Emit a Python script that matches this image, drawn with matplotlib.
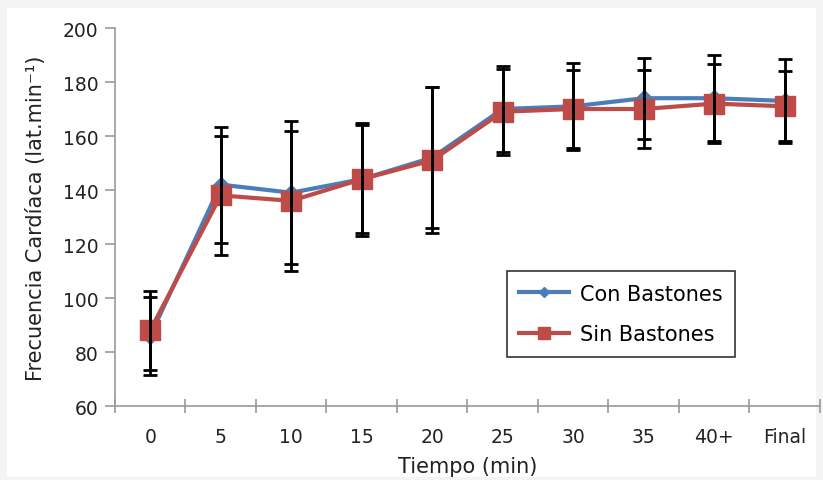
import matplotlib.pyplot as plt
from matplotlib.patches import Rectangle

plt.rcParams['font.family'] = ['DejaVu Sans']

# datos
tiempos = ['0', '5', '10', '15', '20', '25', '30', '35', '40+', 'Final']
con_bastones = [86, 142, 139, 144, 152, 170, 171, 174, 174, 173]
con_err = [14.5, 21.5, 26.5, 21, 26, 16, 16, 15, 16, 15.5]
sin_bastones = [88, 138, 136, 144, 151, 169, 170, 170, 172, 171]
sin_err = [14.5, 22, 26, 20, 27, 16, 14.5, 14.5, 14.5, 13]

azul = '#4a7ebb'
rojo = '#be4b48'

fig = plt.figure(figsize=(8.23, 4.81), dpi=100)
fig.patch.set_facecolor('#f4f4f4')
fig.patches.append(Rectangle((7 / 823, 3 / 481), 809 / 823, 469 / 481,
                             transform=fig.transFigure, facecolor='white',
                             edgecolor='none', zorder=-1))

ax = fig.add_axes([0.1397, 0.1538, 0.8566, 0.7859])
ax.set_facecolor('none')
x = list(range(len(tiempos)))

ax.plot(x, con_bastones, color=azul, lw=3, marker='D', ms=8,
        label='Con Bastones', zorder=3)
ax.plot(x, sin_bastones, color=rojo, lw=3, marker='s', ms=15,
        label='Sin Bastones', zorder=4)
ax.errorbar(x, con_bastones, yerr=con_err, fmt='none', ecolor='black',
            elinewidth=2, capsize=5, capthick=2, zorder=5)
ax.errorbar(x, sin_bastones, yerr=sin_err, fmt='none', ecolor='black',
            elinewidth=2, capsize=5, capthick=2, zorder=5)

ax.set_xlim(-0.5, len(tiempos) - 0.5)
ax.set_ylim(60, 200)
ax.set_yticks(range(60, 201, 20))
ax.set_xticks(x)
ax.set_xticklabels(tiempos)
ax.set_xticks([i - 0.5 for i in range(len(tiempos) + 1)], minor=True)
ax.tick_params(axis='x', which='major', length=0, pad=15, labelsize=13.5,
               labelcolor='#222222')
ax.tick_params(axis='x', which='minor', length=10, direction='inout',
               color='#999999', width=1.2)
ax.tick_params(axis='y', length=7, color='#999999', width=1.2,
               labelsize=13.5, labelcolor='#222222', pad=5)

for s in ['top', 'right']:
    ax.spines[s].set_visible(False)
for s in ['left', 'bottom']:
    ax.spines[s].set_color('#999999')
    ax.spines[s].set_linewidth(1.2)

ax.set_xlabel('Tiempo (min)', fontsize=15, color='#222222', labelpad=7)
ax.set_ylabel('Frecuencia Cardíaca (lat.min⁻¹)', fontsize=15,
              color='#222222', labelpad=12)

leg = ax.legend(loc='upper left', bbox_to_anchor=(0.556, 0.357),
                fontsize=15, frameon=True, fancybox=False,
                handlelength=2.4, handletextpad=0.5, borderpad=0.6,
                labelspacing=1.0, markerscale=0.6, borderaxespad=0)
leg.get_frame().set_edgecolor('black')
leg.get_frame().set_linewidth(1.2)

plt.savefig('out.png', dpi=100)
